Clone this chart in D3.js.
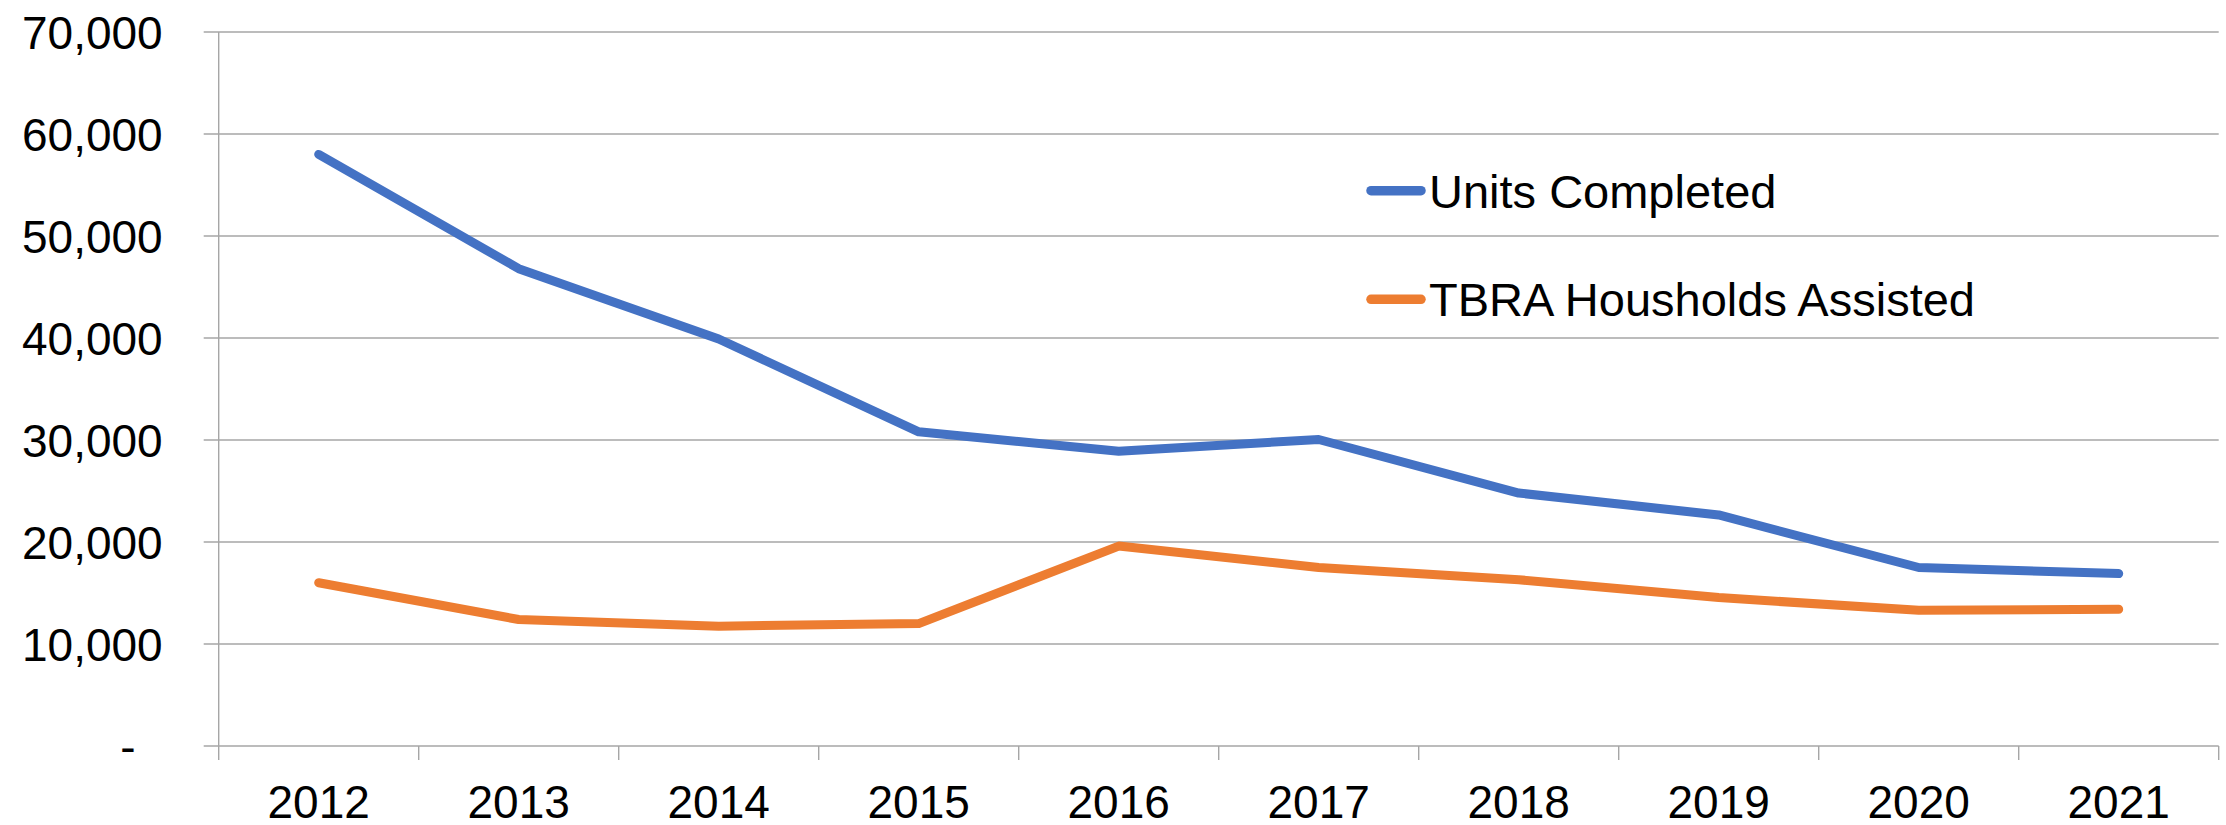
<!DOCTYPE html>
<html>
<head>
<meta charset="utf-8">
<script src="https://cdn.jsdelivr.net/npm/d3@7"></script>
<style>
  body { margin: 0; background: #fff; }
  text { font-family: "Liberation Sans", Arial, sans-serif; fill: #000; }
</style>
</head>
<body>
<div id="chart"></div>
<script>
// data
const years = ["2012", "2013", "2014", "2015", "2016", "2017", "2018", "2019", "2020", "2021"]
const unitsCompleted = [58000, 46800, 39900, 30800, 28900, 30050, 24800, 22650, 17500, 16900]
const tbraAssisted = [16000, 12400, 11750, 12000, 19600, 17500, 16300, 14550, 13300, 13400]
const yTicks = [0, 10000, 20000, 30000, 40000, 50000, 60000, 70000]
const seriesNames = ["Units Completed", "TBRA Housholds Assisted"]
const colors = ["#4472C4", "#ED7D31"]

const width = 2226, height = 825
const plotLeft = 218.7, plotRight = 2218.7, plotTop = 32, plotBottom = 746

const svg = d3.select("#chart")
  .append("svg")
    .attr("width", width)
    .attr("height", height)

const x = d3.scaleBand()
  .domain(years)
  .range([plotLeft, plotRight])
  .padding(0)

const y = d3.scaleLinear()
  .domain([0, 70000])
  .range([plotBottom, plotTop])

// horizontal gridlines
svg.append("g")
  .selectAll("line")
  .data(yTicks)
  .join("line")
    .attr("x1", plotLeft - 15)
    .attr("x2", plotRight)
    .attr("y1", d => y(d))
    .attr("y2", d => y(d))
    .style("stroke", "#A6A6A6")
    .style("stroke-width", 1.4)

// vertical axis line
svg.append("line")
  .attr("x1", plotLeft).attr("x2", plotLeft)
  .attr("y1", plotTop).attr("y2", plotBottom + 14)
  .style("stroke", "#A6A6A6")
  .style("stroke-width", 1.4)

// x tick marks at category boundaries
const boundaries = years.map(d => x(d)).concat([x.range()[1]])
svg.append("g")
  .selectAll("line")
  .data(boundaries.slice(1))
  .join("line")
    .attr("x1", d => d).attr("x2", d => d)
    .attr("y1", plotBottom).attr("y2", plotBottom + 14)
    .style("stroke", "#A6A6A6")
    .style("stroke-width", 1.4)

// y axis labels
const yAxis = svg.append("g")
  .attr("transform", `translate(${plotLeft},0)`)
  .call(d3.axisLeft(y)
    .tickValues(yTicks)
    .tickSize(0)
    .tickPadding(56)
    .tickFormat(d => d === 0 ? "-" : d3.format(",")(d)))
yAxis.select(".domain").remove()
yAxis.selectAll("text")
  .style("font-size", "46px")
  .style("font-family", "'Liberation Sans', Arial, sans-serif")
  .attr("dy", "0.36em")
  .attr("x", d => d === 0 ? -83 : -56)

// x axis labels
const xAxis = svg.append("g")
  .attr("transform", `translate(0,${plotBottom})`)
  .call(d3.axisBottom(x).tickSize(0).tickPadding(39))
xAxis.select(".domain").remove()
xAxis.selectAll("text")
  .style("font-size", "46px")
  .style("font-family", "'Liberation Sans', Arial, sans-serif")

// lines
const line = d3.line()
  .x((d, i) => x(years[i]) + x.bandwidth() / 2)
  .y(d => y(d))

svg.append("g")
  .selectAll("path")
  .data([unitsCompleted, tbraAssisted])
  .join("path")
    .attr("d", line)
    .style("fill", "none")
    .style("stroke", (d, i) => colors[i])
    .style("stroke-width", 9)
    .style("stroke-linecap", "round")
    .style("stroke-linejoin", "round")

// legend
const legendY = [190.7, 299.3]
const legend = svg.append("g")
  .selectAll("g")
  .data(seriesNames)
  .join("g")
    .attr("transform", (d, i) => `translate(1371,${legendY[i]})`)

legend.append("line")
  .attr("x1", 0).attr("x2", 50)
  .attr("y1", 0).attr("y2", 0)
  .style("stroke", (d, i) => colors[i])
  .style("stroke-width", 9.5)
  .style("stroke-linecap", "round")

legend.append("text")
  .attr("x", 58)
  .attr("dy", "0.36em")
  .style("font-size", "47px")
  .text(d => d)
</script>
</body>
</html>
